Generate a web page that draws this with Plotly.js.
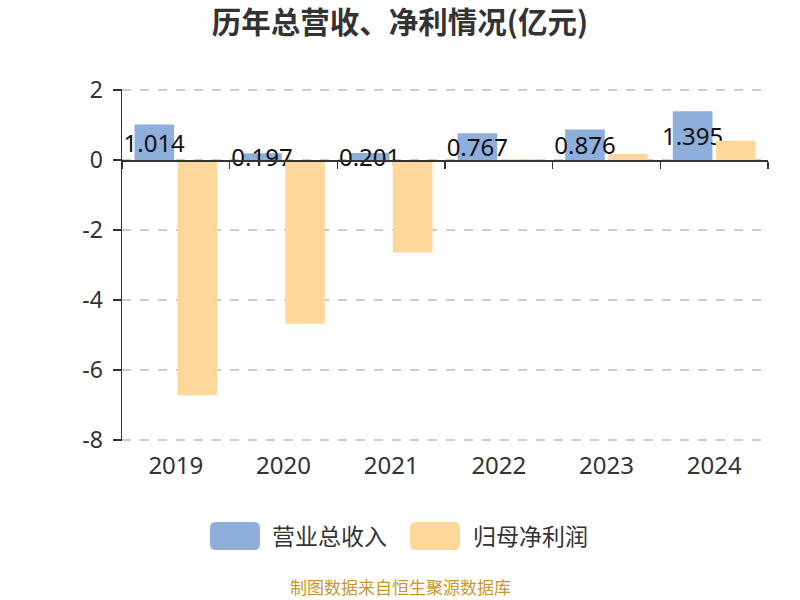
<!DOCTYPE html>
<html>
<head>
<meta charset="utf-8">
<script src="https://cdn.plot.ly/plotly-3.0.1.min.js"></script>
<style>html,body{margin:0;padding:0;background:#fff;}#chart{width:800px;height:600px;}</style>
</head>
<body>
<div id="chart"></div>
<script>
const years = ['2019', '2020', '2021', '2022', '2023', '2024'];
const revenue = [1.014, 0.197, 0.201, 0.767, 0.876, 1.395];
const netProfit = [-6.73, -4.68, -2.64, 0.02, 0.17, 0.55];
const seriesNames = ['营业总收入', '归母净利润'];
const colors = ['#8eaedc', '#fed89b'];
const yTicks = [-8, -6, -4, -2, 0, 2];

const W = 800, H = 600;
const M = {l: 122, r: 32, t: 89, b: 159};
const PW = W - M.l - M.r, PH = H - M.t - M.b;
const px = x => (x - M.l) / PW;
const py = y => (H - M.b - y) / PH;
const yPad = 0.03;
const yMin = yTicks[0] - yPad, yMax = yTicks[yTicks.length - 1] + yPad;
const zeroPos = (0 - yMin) / (yMax - yMin);

const font = '"Noto Sans", "Noto Sans CJK SC", sans-serif';

const traces = [
  {
    type: 'bar', name: seriesNames[0], x: years, y: revenue,
    marker: {color: colors[0]},
    text: revenue.map(v => v.toFixed(3)), texttemplate: '%{text}',
    textposition: 'inside', insidetextanchor: 'middle', textangle: 0,
    constraintext: 'none', cliponaxis: false,
    textfont: {color: '#111', size: 24, family: font},
    showlegend: false, hoverinfo: 'x+y'
  },
  {
    type: 'bar', name: seriesNames[1], x: years, y: netProfit,
    marker: {color: colors[1]},
    showlegend: false, hoverinfo: 'x+y'
  },
  {
    type: 'scatter', mode: 'none', x: years, y: years.map(() => null),
    xaxis: 'x2', yaxis: 'y', showlegend: false, hoverinfo: 'skip'
  }
];

function roundRect(x0, y0, x1, y1, r) {
  const rx = r / PW, ry = r / PH;
  const X0 = px(x0), X1 = px(x1), Y0 = py(y0), Y1 = py(y1);
  return `M${X0 + rx},${Y0} L${X1 - rx},${Y0} Q${X1},${Y0} ${X1},${Y0 - ry} L${X1},${Y1 + ry} Q${X1},${Y1} ${X1 - rx},${Y1} L${X0 + rx},${Y1} Q${X0},${Y1} ${X0},${Y1 + ry} L${X0},${Y0 - ry} Q${X0},${Y0} ${X0 + rx},${Y0} Z`;
}

const legendItems = [
  {sx: 210, tx: 270},
  {sx: 410, tx: 471}
];
const shapes = legendItems.map((it, i) => ({
  type: 'path', xref: 'paper', yref: 'paper',
  path: roundRect(it.sx, 522, it.sx + 50, 550, 6),
  fillcolor: colors[i], line: {width: 0}
}));
const annotations = legendItems.map((it, i) => ({
  xref: 'paper', yref: 'paper', x: px(it.tx), y: py(536),
  xanchor: 'left', yanchor: 'middle', showarrow: false,
  text: seriesNames[i], font: {family: font, size: 23, color: '#333'}
}));
annotations.push({
  xref: 'paper', yref: 'paper', x: px(400), y: py(586),
  xanchor: 'center', yanchor: 'middle', showarrow: false,
  text: '制图数据来自恒生聚源数据库',
  font: {family: '"Noto Sans CJK SC", sans-serif', size: 17, color: '#c9962a'}
});

const layout = {
  width: W, height: H,
  margin: M,
  paper_bgcolor: '#fff', plot_bgcolor: '#fff',
  title: {
    text: '历年总营收、净利情况(亿元)',
    x: 0.5, xref: 'container', xanchor: 'center',
    y: 1 - 23 / H, yref: 'container', yanchor: 'middle',
    font: {family: '"Noto Sans CJK SC", sans-serif', size: 29.5, color: '#333', weight: 'bold'}
  },
  barmode: 'group', bargap: 0.2, bargroupgap: 0.08,
  showlegend: false,
  xaxis: {
    type: 'category', categoryorder: 'array', categoryarray: years,
    range: [-0.5, years.length - 0.5],
    showline: false, ticks: '', showgrid: false, zeroline: false,
    ticklabelstandoff: 8,
    tickfont: {family: font, size: 24, color: '#333'}
  },
  xaxis2: {
    type: 'category', categoryorder: 'array', categoryarray: years,
    overlaying: 'x', matches: 'x', anchor: 'free', position: zeroPos,
    showline: true, linecolor: '#333', linewidth: 1.5,
    ticks: 'outside', tickson: 'boundaries', ticklen: 7, tickcolor: '#333', tickwidth: 1.5,
    showticklabels: false, showgrid: false, zeroline: false
  },
  yaxis: {
    range: [yMin, yMax],
    tickvals: yTicks, ticktext: yTicks.map(String),
    showline: true, linecolor: '#333', linewidth: 1.5,
    ticks: 'outside', ticklen: 8, tickcolor: '#333', tickwidth: 1.5,
    ticklabelstandoff: 5,
    showgrid: true, gridcolor: '#cccccc', griddash: 'dash', gridwidth: 1.2,
    zeroline: false,
    tickfont: {family: font, size: 23, color: '#333'}
  },
  shapes: shapes,
  annotations: annotations
};

Plotly.newPlot('chart', traces, layout, {displayModeBar: false, staticPlot: true});
</script>
</body>
</html>
